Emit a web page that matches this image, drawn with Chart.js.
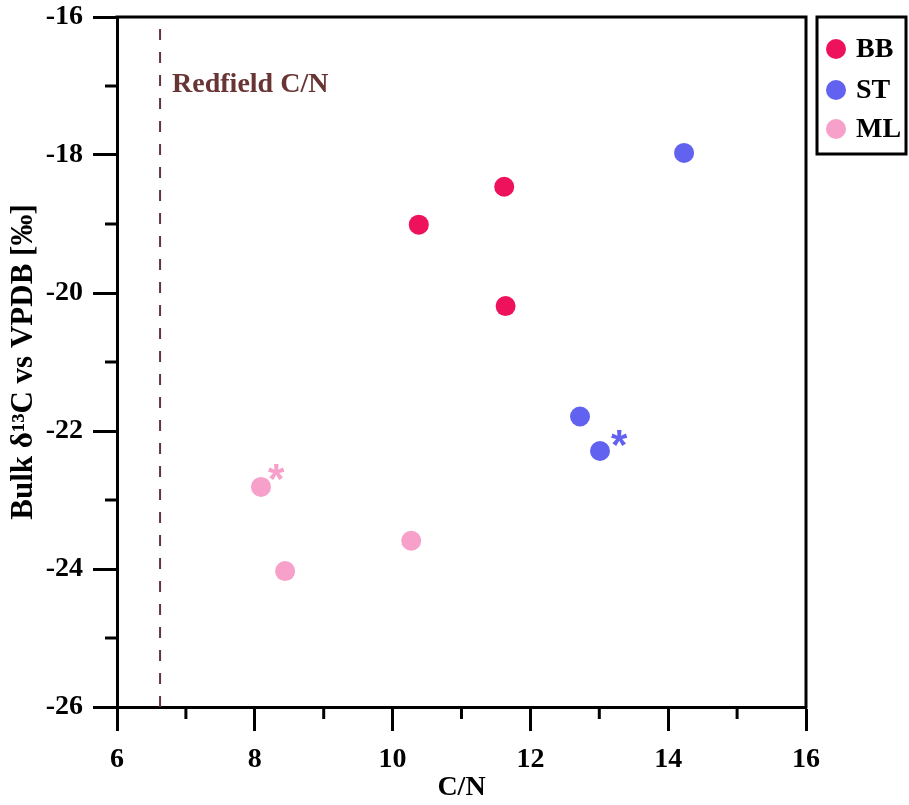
<!DOCTYPE html>
<html>
<head>
<meta charset="utf-8">
<script src="https://cdn.jsdelivr.net/npm/chart.js@4"></script>
<style>
  html, body { margin: 0; padding: 0; background: #fff; }
  #wrap { width: 909px; height: 805px; }
</style>
</head>
<body>
<div id="wrap"><canvas id="myChart"></canvas></div>
<script>
// data
const groups = ['BB', 'ST', 'ML'];
const colors = ['rgb(238, 18, 92)', 'rgb(98, 98, 240)', 'rgb(246, 160, 202)'];
const bbCN = [10.38, 11.62, 11.64];
const bbD13C = [-19.01, -18.46, -20.19];
const stCN = [14.23, 12.72, 13.01];
const stD13C = [-17.97, -21.79, -22.29];
const mlCN = [8.09, 8.44, 10.27];
const mlD13C = [-22.81, -24.03, -23.59];
const redfield = 6.625;
const xTicks = [6, 8, 10, 12, 14, 16];
const yTicks = [-26, -24, -22, -20, -18, -16];
// asterisks next to ML and ST points
const starCN = [8.31, 13.29];
const starD13C = [-22.6, -22.1];
const starColor = [colors[2], colors[1]];

const serif = 'Liberation Serif';
const lineBrown = 'rgb(96, 52, 60)';
const toPts = (xs, ys) => xs.map((x, i) => ({ x: x, y: ys[i] }));

const extras = {
    id: 'extras',
    afterDraw(chart) {
        const c = chart.ctx;
        const a = chart.chartArea;
        const sx = chart.scales.x, sy = chart.scales.y;
        c.save();
        // frame top + right
        c.strokeStyle = '#000';
        c.lineWidth = 3;
        c.beginPath();
        c.moveTo(a.left - 1.5, a.top);
        c.lineTo(a.right, a.top);
        c.lineTo(a.right, a.bottom + 1.5);
        c.stroke();
        // minor ticks
        for (let v = 7; v < 16; v += 2) {
            const px = sx.getPixelForValue(v);
            c.beginPath();
            c.moveTo(px, a.bottom);
            c.lineTo(px, a.bottom + 12);
            c.stroke();
        }
        for (let v = -25; v < -16; v += 2) {
            const py = sy.getPixelForValue(v);
            c.beginPath();
            c.moveTo(a.left, py);
            c.lineTo(a.left - 12, py);
            c.stroke();
        }
        // Redfield label
        c.fillStyle = 'rgb(104, 52, 52)';
        c.font = 'bold 28px "' + serif + '"';
        c.textAlign = 'left';
        c.textBaseline = 'middle';
        c.fillText('Redfield C/N', sx.getPixelForValue(redfield) + 12, 85);
        // asterisks
        c.font = 'bold 42px "Liberation Sans"';
        c.textAlign = 'center';
        c.textBaseline = 'alphabetic';
        starCN.forEach((v, i) => {
            const m = c.measureText('*');
            const off = (m.actualBoundingBoxAscent - m.actualBoundingBoxDescent) / 2;
            c.fillStyle = starColor[i];
            c.fillText('*', sx.getPixelForValue(v), sy.getPixelForValue(starD13C[i]) + off);
        });
        // legend box
        c.strokeStyle = '#000';
        c.lineWidth = 3;
        c.strokeRect(817, 17, 89, 137);
        c.font = 'bold 28px "' + serif + '"';
        c.textAlign = 'left';
        c.textBaseline = 'middle';
        const rows = [49, 90, 129];
        groups.forEach((g, i) => {
            c.fillStyle = colors[i];
            c.beginPath();
            c.arc(836, rows[i], 10, 0, Math.PI * 2);
            c.fill();
            c.fillStyle = '#000';
            c.fillText(g, 856, rows[i] + 1);
        });
        c.restore();
    }
};

const tickFont = { family: serif, weight: 'bold', size: 28 };

new Chart(document.getElementById('myChart'), {
    type: 'scatter',
    data: {
        datasets: [
            {
                label: 'Redfield',
                data: [{ x: redfield, y: -26 }, { x: redfield, y: -16 }],
                showLine: true,
                borderColor: lineBrown,
                borderWidth: 2,
                borderDash: [11, 12],
                pointRadius: 0
            },
            { label: groups[0], data: toPts(bbCN, bbD13C), backgroundColor: colors[0], borderWidth: 0, pointRadius: 10 },
            { label: groups[1], data: toPts(stCN, stD13C), backgroundColor: colors[1], borderWidth: 0, pointRadius: 10 },
            { label: groups[2], data: toPts(mlCN, mlD13C), backgroundColor: colors[2], borderWidth: 0, pointRadius: 10 }
        ]
    },
    options: {
        responsive: true,
        maintainAspectRatio: false,
        animation: false,
        layout: { padding: { left: 0, top: 17, right: 103, bottom: 0 } },
        plugins: { legend: { display: false }, tooltip: { enabled: false } },
        scales: {
            x: {
                type: 'linear',
                min: 6, max: 16,
                afterBuildTicks: s => { s.ticks = xTicks.map(v => ({ value: v })); },
                afterFit: s => { s.height = 98; s.paddingLeft = 0; s.paddingRight = 0; },
                ticks: { font: tickFont, color: '#000', padding: 12, maxRotation: 0 },
                grid: { drawOnChartArea: false, tickLength: 24, tickWidth: 3, tickColor: '#000' },
                border: { width: 3, color: '#000' },
                title: { display: true, text: 'C/N', color: '#000', font: { family: serif, weight: 'bold', size: 28 }, padding: { top: 0, bottom: 0 } }
            },
            y: {
                type: 'linear',
                min: -26, max: -16,
                afterBuildTicks: s => { s.ticks = yTicks.map(v => ({ value: v })); },
                afterFit: s => { s.width = 117; s.paddingTop = 0; s.paddingBottom = 0; },
                ticks: { font: tickFont, color: '#000', padding: 10 },
                grid: { drawOnChartArea: false, tickLength: 24, tickWidth: 3, tickColor: '#000' },
                border: { width: 3, color: '#000' },
                title: { display: true, text: 'Bulk δ¹³C vs VPDB [‰]', color: '#000', font: { family: serif, weight: 'bold', size: 31 }, padding: { top: 5, bottom: 0 } }
            }
        }
    },
    plugins: [extras]
});
</script>
</body>
</html>
